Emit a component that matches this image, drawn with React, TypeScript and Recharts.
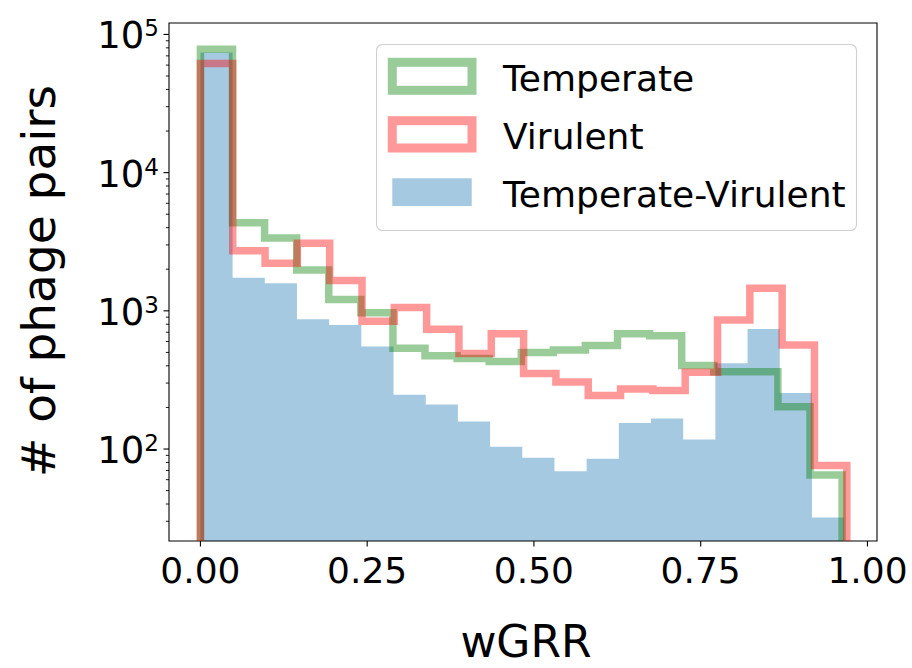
import React from 'react'
import { ComposedChart, Line, Area, XAxis, YAxis, ReferenceArea, Legend } from 'recharts'

// histogram counts per bin (20 bins each)
const temperateCounts = [78000, 4340, 3370, 1975, 1210, 968, 537, 474, 452, 430, 499, 521, 561, 684, 659, 402, 362, 362, 202, 65]
const virulentCounts = [61500, 2720, 2210, 3080, 1660, 840, 1058, 736, 491, 684, 352, 305, 244, 272, 265, 360, 859, 1456, 567, 76]
const mixedCounts = [74000, 1738, 1582, 869, 791, 551, 247, 210, 158, 104, 86.5, 69, 85, 154, 166, 117, 418, 740, 254, 32]

// upper end of each series' bin range (bins start at 0)
const temperateMax = 0.962
const virulentMax = 0.969
const mixedMax = 0.965

const xTicks = [0, 0.25, 0.5, 0.75, 1]
const yMajor = [100, 1000, 10000, 100000]
const yMinor = [30, 40, 50, 60, 70, 80, 90, 200, 300, 400, 500, 600, 700, 800, 900,
  2000, 3000, 4000, 5000, 6000, 7000, 8000, 9000, 20000, 30000, 40000, 50000, 60000, 70000, 80000, 90000]
const supDigits: Record<number, string> = { 100: '2', 1000: '3', 10000: '4', 100000: '5' }

const Y_MIN = 21.6
const Y_MAX = 121000
const X_MIN = -0.0471
const X_MAX = 1.0143

const FONT = 'DejaVu Sans, sans-serif'

const outline = (counts: number[], max: number) => {
  const w = max / counts.length
  const pts = [{ x: 0, y: Y_MIN }]
  counts.forEach((c, i) => pts.push({ x: i * w, y: c }))
  pts.push({ x: max, y: counts[counts.length - 1] })
  pts.push({ x: max, y: Y_MIN })
  return pts
}

const filled = (counts: number[], max: number) => {
  const w = max / counts.length
  const pts = counts.map((c, i) => ({ x: i * w, y: c }))
  pts.push({ x: max, y: counts[counts.length - 1] })
  return pts
}

const temperateData = outline(temperateCounts, temperateMax)
const virulentData = outline(virulentCounts, virulentMax)
const mixedData = filled(mixedCounts, mixedMax)

const XTick = (props: any) => {
  const { x, y, payload } = props
  return (
    <g>
      <line x1={x} x2={x} y1={y} y2={y + 5.5} stroke="#000" strokeWidth={1.1} />
      <text x={x} y={y + 42} textAnchor="middle" fontSize={36} fontFamily={FONT} fill="#000">
        {Number(payload.value).toFixed(2)}
      </text>
    </g>
  )
}

const YTick = (props: any) => {
  const { x, y, payload } = props
  const v = payload.value
  const sup = supDigits[v]
  if (!sup) return <line x1={x - 3.2} x2={x} y1={y} y2={y} stroke="#000" strokeWidth={0.9} />
  return (
    <g>
      <line x1={x - 5.5} x2={x} y1={y} y2={y} stroke="#000" strokeWidth={1.1} />
      <text x={x - 10} y={y + 14} textAnchor="end" fontSize={37} fontFamily={FONT} fill="#000">
        <tspan>10</tspan>
        <tspan dy={-12} fontSize={23}>{sup}</tspan>
      </text>
    </g>
  )
}

const LegendBox = () => (
  <svg width={482} height={188} style={{ display: 'block' }}>
    <rect x={0.5} y={0.5} width={480} height={186} rx={6} fill="#fff" fillOpacity={0.8} stroke="#d0d0d0" strokeWidth={1.1} />
    <rect x={16.3} y={18.3} width={79.7} height={28} fill="none" stroke="#008000" strokeOpacity={0.4} strokeWidth={9} />
    <rect x={16.3} y={76.7} width={79.7} height={27.3} fill="none" stroke="#ff0000" strokeOpacity={0.4} strokeWidth={9} />
    <rect x={16.3} y={134.3} width={79.4} height={27.7} fill="#1f77b4" fillOpacity={0.4} />
    <text x={127} y={46.7} fontSize={36} fontFamily={FONT} fill="#000">Temperate</text>
    <text x={127} y={104.7} fontSize={36} fontFamily={FONT} fill="#000">Virulent</text>
    <text x={127} y={162.7} fontSize={36} fontFamily={FONT} fill="#000">Temperate-Virulent</text>
  </svg>
)

export default function App() {
  return (
    <div style={{ position: 'absolute', left: 0, top: 0, width: 912, height: 668, background: '#fff' }}>
      <ComposedChart width={912} height={668} margin={{ top: 23, right: 35, bottom: 0, left: 0 }}>
        <XAxis
          type="number"
          dataKey="x"
          domain={[X_MIN, X_MAX]}
          allowDataOverflow
          ticks={xTicks}
          interval={0}
          tick={<XTick />}
          tickSize={0}
          tickMargin={0}
          tickLine={false}
          axisLine={false}
          height={127}
        />
        <YAxis
          type="number"
          dataKey="y"
          scale="log"
          domain={[Y_MIN, Y_MAX]}
          allowDataOverflow
          ticks={[...yMinor, ...yMajor].sort((a, b) => a - b)}
          interval={0}
          tick={<YTick />}
          tickSize={0}
          tickMargin={0}
          tickLine={false}
          axisLine={false}
          width={169}
        />
        <Line
          data={temperateData}
          dataKey="y"
          type="stepAfter"
          stroke="#008000"
          strokeOpacity={0.4}
          strokeWidth={7.5}
          strokeLinejoin="miter"
          dot={false}
          activeDot={false}
          isAnimationActive={false}
        />
        <Line
          data={virulentData}
          dataKey="y"
          type="stepAfter"
          stroke="#ff0000"
          strokeOpacity={0.4}
          strokeWidth={7.5}
          strokeLinejoin="miter"
          dot={false}
          activeDot={false}
          isAnimationActive={false}
        />
        <Area
          data={mixedData}
          dataKey="y"
          type="stepAfter"
          baseValue={Y_MIN}
          stroke="none"
          fill="#1f77b4"
          fillOpacity={0.4}
          dot={false}
          activeDot={false}
          isAnimationActive={false}
        />
        <ReferenceArea x1={X_MIN} x2={X_MAX} y1={Y_MIN} y2={Y_MAX} fill="none" stroke="#000" strokeWidth={1.1} ifOverflow="visible" />
        <Legend
          layout="horizontal"
          verticalAlign="middle"
          align="center"
          wrapperStyle={{ left: 376, top: 44, width: 482, height: 188 }}
          content={() => <LegendBox />}
        />
        <text x={55} y={281} transform="rotate(-90, 55, 281)" textAnchor="middle" fontSize={47} fontFamily={FONT} fill="#000">
          # of phage pairs
        </text>
        <text x={526} y={657} textAnchor="middle" fontSize={44} fontFamily={FONT} fill="#000">
          wGRR
        </text>
      </ComposedChart>
    </div>
  )
}
